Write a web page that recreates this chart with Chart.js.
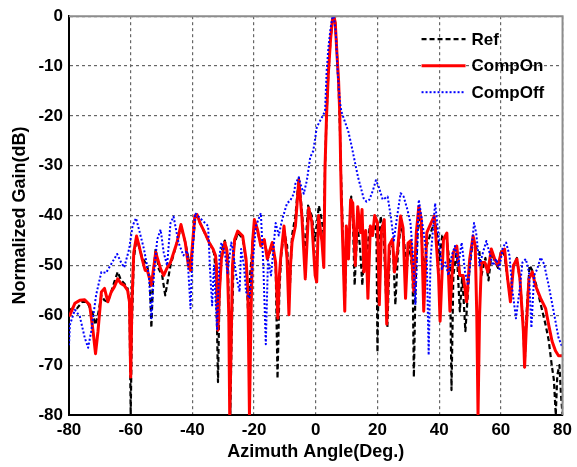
<!DOCTYPE html>
<html>
<head>
<meta charset="utf-8">
<script src="https://cdn.jsdelivr.net/npm/chart.js@4.4.1/dist/chart.umd.min.js"></script>
<style>
  html, body { margin: 0; padding: 0; background: #fff; }
  #wrap { width: 577px; height: 467px; }
</style>
</head>
<body>
<div id="wrap"><canvas id="myChart" width="577" height="467"></canvas></div>
<script>
// etiquetas de los ejes
const xTicks = [-80, -60, -40, -20, 0, 20, 40, 60, 80];
const yTicks = [-80, -70, -60, -50, -40, -30, -20, -10, 0];
const seriesNames = ['Ref', 'CompOn', 'CompOff'];

// Ref (negro, discontinua)
const refX = [-80, -78.5, -77.4, -75.7, -74.1, -72.2, -71.5, -70.6, -69.5, -68.5, -67.4, -66.3, -65.3, -64.2, -63.2, -62.1, -61, -60.4, -60, -59.6, -59, -58.1, -56.3, -54.7, -53.8, -53.3, -52.7, -51.9, -50.9, -49.8, -48.8, -47.1, -45, -43.7, -42.3, -41, -40.2, -39, -38.2, -36, -34, -33, -32.3, -31.7, -31.2, -30.5, -29.5, -28.5, -28, -27.7, -27.3, -26.5, -25.3, -23.7, -22.6, -21.8, -21.3, -20.5, -19.9, -18.9, -17.8, -16.7, -15.5, -14.1, -13, -12.4, -11.8, -11.2, -10.3, -9.3, -8.5, -7.7, -6.6, -5.5, -4.5, -3.5, -2.5, -1.3, -0.3, 0.3, 1, 2, 2.6, 3, 3.5, 4.1, 4.8, 5.4, 5.85, 6.3, 6.9, 7.4, 7.8, 8.1, 8.6, 9.4, 10, 10.6, 11.5, 12, 12.6, 13.5, 14.3, 15.1, 15.8, 16.7, 17.5, 18.5, 19.2, 19.7, 20, 20.4, 21, 22, 23.2, 24, 25, 25.8, 26.6, 27.5, 28.5, 29.3, 30.5, 31.4, 31.8, 32.3, 33.2, 34.2, 35, 36, 37.5, 38.7, 39.6, 40.1, 41, 42.3, 43.5, 44, 44.6, 45.7, 46.7, 47.5, 48.5, 49.9, 51, 52, 53, 53.7, 55, 56, 57, 58, 59.1, 60.1, 61.2, 62.2, 63.1, 64.1, 65.2, 66.2, 67.3, 67.7, 68.3, 69.3, 70.2, 71.5, 73, 74.5, 75.5, 76.5, 77.2, 77.8, 78.3, 79, 79.5, 80];
const refY = [-59, -58.5, -58.6, -57.3, -57.3, -59.9, -61.9, -59.9, -56, -57, -57.3, -55.3, -53.3, -51.3, -52.9, -53.6, -54.6, -57.3, -80, -62, -48.7, -44.4, -48.4, -50, -52.7, -62.5, -52, -46.7, -50.7, -52, -56, -50, -45.4, -42.1, -45.4, -49.4, -48, -40, -40.5, -43.5, -46, -47.5, -52, -73.4, -55, -47, -45, -48, -65, -80, -65, -46, -43.5, -44.5, -49, -62, -52, -46, -41.5, -43, -46, -45, -48.5, -46, -50, -72.7, -55, -48, -43, -46, -56, -44, -40, -32.5, -39, -48, -38, -40, -45, -42, -38, -41, -44, -30, -19.8, -11.2, -4.6, -0.7, 0, -1.2, -7.9, -14, -22, -30, -40, -57.9, -44, -47, -36.2, -40, -54, -42, -46, -54, -44, -47, -42, -44, -40, -45, -67.4, -50, -40.1, -44, -62.5, -47, -46, -57.9, -48, -42, -44, -50, -46, -52, -72.4, -55, -40, -43, -52, -46, -43, -41, -45, -49, -44, -44, -50, -75, -52, -47, -59.2, -52, -63.2, -50, -45, -46.5, -47, -52, -48.5, -53, -47.5, -49, -50.5, -47, -48, -53, -56, -50, -48.5, -53, -62, -70.4, -60, -50, -51, -54, -58, -61.9, -65, -70, -73, -80, -72, -70, -76, -80];

// CompOn (rojo, continua)
const onX = [-80, -79.7, -78.1, -76.5, -74.9, -73.3, -72.2, -71.4, -70.6, -69.5, -68.5, -67.4, -66.3, -65.3, -64.2, -63.2, -62.1, -61, -60.4, -60, -59.6, -59, -58.1, -57.3, -56.3, -55.3, -54.6, -53.3, -51.9, -50.3, -49.3, -48.2, -47.1, -45, -43.7, -42.3, -41.3, -40.6, -40, -39.2, -38.5, -37.5, -35.9, -34.5, -33.3, -32.5, -32.2, -31.7, -31.2, -30.6, -29.5, -28.8, -28.2, -27.9, -27.5, -27, -26.3, -25.3, -23.7, -22.6, -22, -21.5, -21, -20.5, -19.9, -18.9, -17.8, -16.7, -15.7, -14.9, -14.1, -13, -12.3, -11.8, -11.4, -10.3, -9.3, -8.7, -8.2, -7.7, -6.6, -5.5, -4.5, -3.4, -2.3, -1.3, -0.2, 0.3, 0.9, 2, 2.6, 3, 3.5, 4.1, 4.8, 5.4, 5.85, 6.3, 6.9, 7.4, 7.8, 8.1, 8.3, 8.8, 9.4, 9.9, 10.6, 11.3, 12, 12.8, 13.6, 14.5, 15, 15.6, 16.2, 16.9, 17.7, 18.4, 19.1, 20, 20.6, 21.3, 22.2, 23, 23.8, 24.9, 25.5, 26.5, 27.5, 28.3, 29.1, 29.9, 30.8, 31.8, 32.6, 33.4, 34.2, 35, 36, 37, 38.4, 38.7, 39.8, 40.3, 41.4, 42.5, 43.5, 44.6, 45.7, 46.7, 47.8, 48.9, 49.9, 51, 51.7, 52.2, 52.6, 53.1, 53.7, 54.8, 55.8, 56.9, 58, 59.1, 60.1, 61.2, 62.2, 63.1, 64.1, 65.2, 66.2, 67.3, 67.7, 68.2, 69.1, 70.2, 71.2, 72.9, 74.5, 75.5, 76.6, 77.7, 78.7, 80];
const onY = [-60, -59.9, -57.6, -57, -56.9, -57.9, -63.2, -67.7, -63.2, -55.3, -54.6, -57.3, -55.3, -54.3, -52.7, -53.6, -54, -55, -57.3, -72.4, -57.3, -47.4, -44.1, -46, -48.7, -51, -51, -54, -47.4, -50.7, -52, -50.5, -49.4, -45.4, -41.8, -45.4, -50, -51, -46, -40, -39.8, -41.5, -43.5, -45.5, -46.7, -48, -50, -63, -55, -48.7, -45.4, -47, -60, -80, -68, -50, -44.8, -43.1, -44.1, -48.7, -55, -80, -60, -45.4, -40.8, -42.8, -46.1, -44.8, -48.7, -47, -45.4, -49.4, -60.6, -52, -48.7, -42.1, -48.7, -59.9, -50, -45.4, -42.1, -32.9, -40.2, -52.7, -38.5, -41.2, -52, -53.3, -40, -45.2, -50.4, -30.3, -19.8, -11.2, -4.6, -0.7, 0, -1.2, -7.9, -13, -20, -31, -36.8, -46.7, -59.2, -42.1, -48.7, -36.8, -37.5, -50, -38.2, -43.4, -38.8, -51.3, -43, -56.6, -42.1, -44, -40, -41.4, -57.9, -43, -40.8, -61.8, -46, -44.7, -51.3, -47, -40.1, -42.5, -56.6, -45.5, -45, -55.3, -43.4, -38.2, -40.8, -59.2, -43.4, -42, -40.1, -42.1, -52, -61.2, -44.8, -43.5, -59.2, -47.4, -46.1, -52, -52, -57.3, -48.7, -44.1, -46.1, -60, -80, -60, -49.4, -49.4, -51.3, -46.7, -48.7, -50, -47.4, -46.7, -52.7, -57.3, -50, -48.7, -52.7, -63.2, -70.4, -63.2, -52.7, -51.3, -54, -56.6, -58.6, -61.9, -65.2, -67.1, -68.1, -68.1];

// CompOff (azul, punteada)
const offX = [-80, -79.7, -78.1, -76.5, -74.9, -73.8, -72.8, -71.2, -69.5, -68, -66.3, -64.4, -63.1, -62.1, -60.5, -59.4, -58.3, -57.3, -55.7, -54.1, -53.3, -52.5, -51.4, -50.3, -49.3, -48.2, -47.1, -46.1, -44.5, -42.9, -41.7, -40.6, -40, -39.1, -37, -34.9, -34.3, -33.6, -33, -32, -31.2, -30.6, -29.5, -28.6, -27.4, -26.9, -25.8, -24.7, -24.2, -23.3, -22.6, -21.5, -20.5, -19.4, -17.8, -17, -16.2, -15.5, -14.5, -13, -12, -10.9, -9.3, -8.3, -7.1, -6.6, -5.5, -5, -3.9, -2.9, -1.8, -0.8, 0.3, 0.8, 1.9, 3, 3.5, 4.1, 4.8, 5.4, 5.85, 6.5, 7.1, 7.8, 8.3, 9.4, 10.5, 11.5, 12.6, 13.7, 14.7, 15.5, 16.4, 17.4, 18.5, 19.5, 20.4, 21.7, 23.3, 24.3, 25.3, 26.3, 27.5, 28.5, 29.7, 30.7, 31.6, 32.3, 33.4, 35, 36, 36.6, 37.2, 38.7, 39.8, 40.9, 42, 43, 44.1, 45.1, 46.2, 47.3, 48.4, 49.4, 50.4, 51.3, 52, 53.1, 54.2, 55.3, 56.3, 57.4, 58.5, 59.5, 60.6, 61.7, 62.8, 63.8, 64.9, 66, 67, 68.1, 69.1, 69.9, 70.8, 71.8, 72.9, 74, 75.5, 77.1, 78.7, 80];
const offY = [-66, -61.9, -58.9, -60.2, -64.5, -66.5, -63.2, -55.9, -51.3, -51.5, -49.7, -47.7, -49.4, -50.4, -46.7, -42.1, -40.5, -42.8, -46.7, -52, -60.6, -52, -44.8, -42.8, -47.4, -50, -41.5, -40.2, -45.4, -48, -47, -58.6, -48, -39.5, -40.8, -42.1, -50.7, -58, -50, -63, -48, -45.4, -47.4, -51.5, -45.4, -46.7, -52, -55.3, -46.7, -50, -55.3, -56.6, -50, -42.1, -39.5, -50, -65.8, -49, -52, -41.5, -44, -40.8, -37.5, -37, -35.6, -33.6, -32.3, -33.6, -35.6, -33, -28.3, -27, -22.4, -21.7, -20.4, -19.1, -11.2, -6.2, -2.4, -0.2, 0, -3.3, -11.2, -17.1, -19.1, -21.1, -23, -25.7, -29, -32.3, -34.6, -36.5, -37.2, -36.8, -35, -32.9, -34.2, -36.8, -36.2, -40.1, -45, -40.5, -35.5, -36.2, -38.8, -41.5, -48.7, -57.9, -36.8, -43.4, -48.7, -68, -48.7, -37.5, -44.1, -50.7, -49.4, -52, -48, -46.1, -50, -45.4, -51.3, -54, -47.4, -41.5, -43.5, -50, -47.4, -45.1, -47.4, -50, -48.7, -50.7, -46.4, -45.4, -48, -55.3, -60.6, -55.3, -49.4, -48.7, -51.3, -62.5, -52, -50.7, -48.4, -49.7, -54, -59.2, -64.5, -66.5];

const toPts = (xs, ys) => xs.map((x, i) => ({ x: x, y: ys[i] }));

const FONT = "'Liberation Sans', Arial, sans-serif";

// marco: lados superior y derecho en gris
const framePlugin = {
  id: 'frame',
  afterDatasetsDraw(chart) {
    const { ctx, chartArea: a } = chart;
    ctx.save();
    ctx.strokeStyle = '#8c8c8c';
    ctx.lineWidth = 2;
    ctx.beginPath();
    ctx.moveTo(a.left, a.top);
    ctx.lineTo(a.right, a.top);
    ctx.lineTo(a.right, a.bottom);
    ctx.stroke();
    ctx.restore();
  }
};

// leyenda dentro del área de la gráfica, sin caja
const legendPlugin = {
  id: 'innerLegend',
  afterDatasetsDraw(chart) {
    const { ctx, chartArea: a } = chart;
    const x0 = a.right - 141, x1 = a.right - 97, tx = a.right - 91;
    ctx.save();
    ctx.font = 'bold 17px ' + FONT;
    ctx.textBaseline = 'middle';
    chart.data.datasets.forEach((ds, i) => {
      const y = a.top + 23 + i * 26.5;
      ctx.strokeStyle = ds.borderColor;
      ctx.lineWidth = ds.borderWidth;
      ctx.setLineDash(ds.borderDash || []);
      ctx.beginPath();
      ctx.moveTo(x0, y);
      ctx.lineTo(x1, y);
      ctx.stroke();
      ctx.setLineDash([]);
      ctx.fillStyle = '#000';
      ctx.fillText(ds.label, tx, y + 1);
    });
    ctx.restore();
  }
};

const ctx = document.getElementById('myChart').getContext('2d');

const myChart = new Chart(ctx, {
  type: 'line',
  data: {
    datasets: [{
      label: seriesNames[0],
      data: toPts(refX, refY),
      borderColor: '#000000',
      borderWidth: 2.2,
      borderDash: [5, 3],
      order: 3
    }, {
      label: seriesNames[1],
      data: toPts(onX, onY),
      borderColor: '#ff0000',
      borderWidth: 3,
      order: 2
    }, {
      label: seriesNames[2],
      data: toPts(offX, offY),
      borderColor: '#0000ff',
      borderWidth: 2,
      borderDash: [2, 2],
      order: 1
    }]
  },
  options: {
    responsive: false,
    animation: false,
    layout: { padding: { left: 0, right: 8, top: 10, bottom: 0 } },
    elements: {
      point: { radius: 0 },
      line: { tension: 0, borderJoinStyle: 'round' }
    },
    plugins: {
      legend: { display: false },
      tooltip: { enabled: false }
    },
    scales: {
      x: {
        type: 'linear',
        min: -80,
        max: 80,
        afterBuildTicks: s => { s.ticks = xTicks.map(v => ({ value: v })); },
        afterFit: s => { s.height = 52; },
        grid: { color: '#666', lineWidth: 1.2, drawTicks: false },
        border: { color: '#000', width: 2, dash: [3, 3] },
        ticks: {
          padding: 5,
          color: '#000',
          font: { family: FONT, size: 17, weight: 'bold' },
          maxRotation: 0
        },
        title: {
          display: true,
          text: 'Azimuth Angle(Deg.)',
          color: '#000',
          font: { family: FONT, size: 18, weight: 'bold' },
          padding: { top: 0, bottom: 4 }
        }
      },
      y: {
        type: 'linear',
        min: -80,
        max: 0,
        afterBuildTicks: s => { s.ticks = yTicks.map(v => ({ value: v })); },
        afterFit: s => { s.width = 69; },
        grid: { color: '#666', lineWidth: 1.2, drawTicks: false },
        border: { color: '#000', width: 2, dash: [3, 3] },
        ticks: {
          padding: 6,
          color: '#000',
          font: { family: FONT, size: 17, weight: 'bold' }
        },
        title: {
          display: true,
          text: 'Normalized Gain(dB)',
          color: '#000',
          font: { family: FONT, size: 18, weight: 'bold' },
          padding: { top: 9, bottom: 0 }
        }
      }
    }
  },
  plugins: [framePlugin, legendPlugin]
});
</script>
</body>
</html>
